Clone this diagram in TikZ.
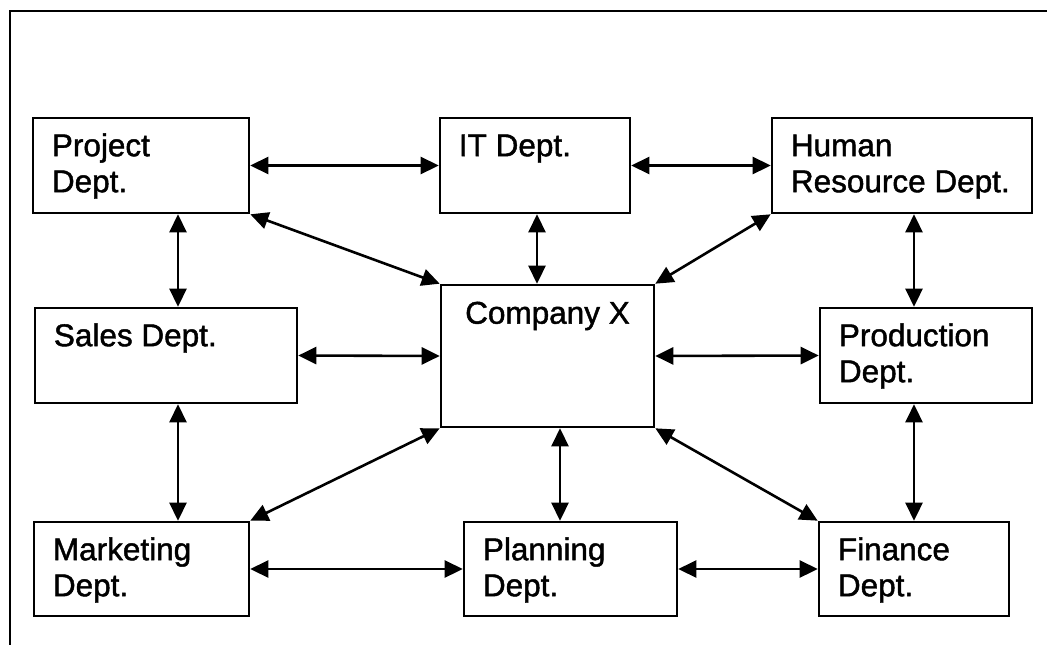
\documentclass[tikz,border=0pt]{standalone}
\usepackage{fontspec}
\setmainfont{Liberation Sans}
\newfontfamily\deptfamily{Liberation Sans}[FakeBold=1.4]
\usetikzlibrary{arrows.meta}

\tikzset{
  deptbox/.style={draw, rectangle, line width=2.6pt, inner sep=0pt},
  deptfont/.style={font=\deptfamily\fontsize{31.5}{36}\selectfont, inner sep=0pt},
  deptlabel/.style={deptfont, anchor=base west},
  link/.style={line width=2.6pt,
    {Triangle[length=18pt,width=17pt]}-{Triangle[length=18pt,width=17pt]}},
  frameline/.style={line width=2.6pt}
}

% \deptnode{name}{x1}{y1}{x2}{y2}{text}: box from (x1,y1) to (x2,y2), text at its top left
\newcommand\deptnode[6]{%
  \node[deptbox, minimum width={(#4-#2)*1pt}, minimum height={(#5-#3)*1pt}]
    (#1) at ({(#2+#4)/2},{(#3+#5)/2}) {};
  \node[deptlabel] (#1-text) at ([xshift=20pt,yshift=-39.5pt]#1.north west)
    {\begin{tabular}[t]{@{}l@{}}#6\end{tabular}};%
}

\begin{document}
\begin{tikzpicture}[x=1pt,y=-1pt]
  \useasboundingbox (0,0) rectangle (1047,645);

  % open frame: left and top edges
  \draw[frameline] (10,645) -- (10,11) -- (1047,11);

  % departments
  \deptnode{project}{33}{118}{249}{213}{Project\\Dept.}
  \deptnode{it}{440}{118}{630}{213}{IT Dept.}
  \deptnode{hr}{772}{118}{1032}{213}{Human\\Resource Dept.}
  \deptnode{sales}{35}{308}{297}{403}{Sales Dept.}
  \deptnode{production}{820}{308}{1032}{403}{Production\\Dept.}
  \deptnode{marketing}{34}{522}{249}{616}{Marketing\\Dept.}
  \deptnode{planning}{464}{522}{677}{616}{Planning\\Dept.}
  \deptnode{finance}{819}{522}{1009}{616}{Finance\\Dept.}

  % the company in the middle
  \node[deptbox, minimum width=213pt, minimum height=142pt] (company) at (547.5,356) {};
  \node[deptfont, anchor=base] (company-text) at ([yshift=-40pt]company.north) {Company X};

  % x positions of the vertical links
  \coordinate (colA) at (178,0);
  \coordinate (colB) at (537,0);
  \coordinate (colC) at (560,0);
  \coordinate (colD) at (914,0);

  % links
  \draw[link] (project.east) -- (it.west);
  \draw[link] (it.east) -- (hr.west);
  \draw[link] (project.south -| colA) -- (sales.north -| colA);
  \draw[link] (sales.south -| colA) -- (marketing.north -| colA);
  \draw[link] (project.south east) -- (company.north west);
  \draw[link] (it.south -| colB) -- (company.north -| colB);
  \draw[link] (hr.south west) -- (company.north east);
  \draw[link] (hr.south -| colD) -- (production.north -| colD);
  \draw[link] (production.south -| colD) -- (finance.north -| colD);
  \draw[link] (sales.east) -- (company.west);
  \draw[link] (company.east) -- (production.west);
  \draw[link] (company.south west) -- (marketing.north east);
  \draw[link] (company.south -| colC) -- (planning.north -| colC);
  \draw[link] (company.south east) -- (finance.north west);
  \draw[link] (marketing.east) -- (planning.west);
  \draw[link] (planning.east) -- (finance.west);
\end{tikzpicture}
\end{document}
